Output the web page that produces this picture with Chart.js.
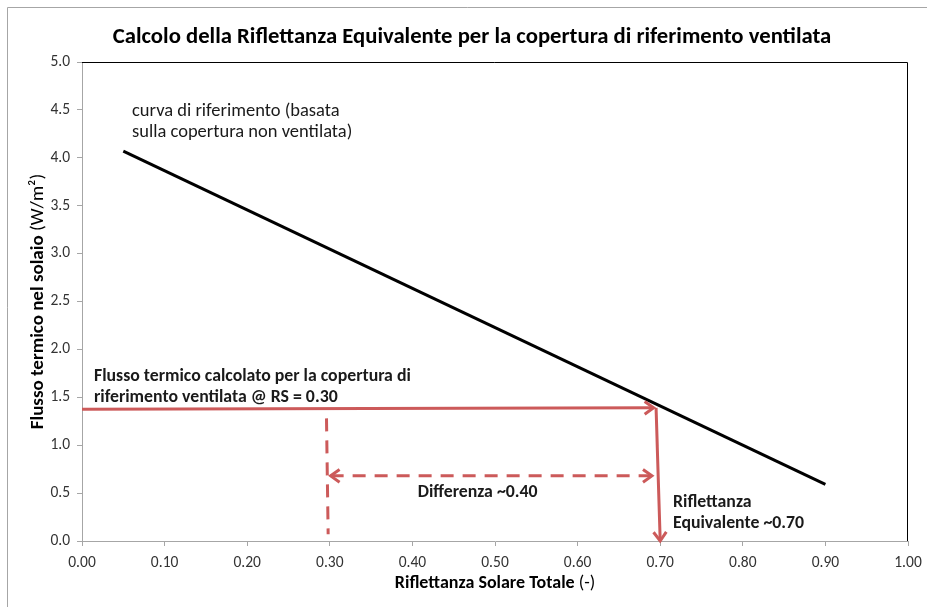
<!DOCTYPE html>
<html>
<head>
<meta charset="utf-8">
<script src="https://cdn.jsdelivr.net/npm/chart.js@4/dist/chart.umd.min.js"></script>
<style>
html,body{margin:0;padding:0;background:#fff;}
#wrap{width:927px;height:607px;position:relative;}
</style>
</head>
<body>
<div id="wrap"><canvas id="c" width="927" height="607"></canvas></div>
<script>
// ---- data ----
const xTicks = [0.0,0.1,0.2,0.3,0.4,0.5,0.6,0.7,0.8,0.9,1.0];
const yTicks = [0.0,0.5,1.0,1.5,2.0,2.5,3.0,3.5,4.0,4.5,5.0];
const refX = [0.05, 0.90];      // curva di riferimento
const refY = [4.07, 0.59];
const flowX = [0.00, 0.692];    // flusso calcolato copertura ventilata
const flowY = [1.375, 1.39];
const eqX = [0.695, 0.70];      // riflettanza equivalente
const eqY = [1.39, 0.00];
const rsX = [0.296, 0.298];     // RS = 0.30
const rsY = [1.28, 0.07];
const diffX = [0.301, 0.690];   // differenza
const diffY = [0.68, 0.68];

const titleText = 'Calcolo della Riflettanza Equivalente per la copertura di riferimento ventilata';
const xTitleBold = 'Riflettanza Solare Totale';
const xTitleNorm = ' (-)';
const yTitleBold = 'Flusso termico nel solaio';
const yTitleNorm = ' (W/m\u00B2)';

const notes = [
  {lines:['curva di riferimento (basata','sulla copertura non ventilata)'], x:0.0605, y:4.48, bold:false, align:'left'},
  {lines:['Flusso termico calcolato per la copertura di','riferimento ventilata @ RS = 0.30'], x:0.0145, y:1.72, bold:true, align:'left'},
  {lines:['Differenza ~0.40'], x:0.479, y:0.51, bold:true, align:'center'},
  {lines:['Riflettanza','Equivalente ~0.70'], x:0.7155, y:0.40, bold:true, align:'left'}
];

const RED = '#CC5A5A';
const FONT = 'Carlito, Calibri, Lato, "Liberation Sans", sans-serif';

const pts = (xs, ys) => xs.map((x,i)=>({x:x, y:ys[i]}));

const overlay = {
  id:'overlay',
  afterDraw(chart){
    const ctx = chart.ctx, xs = chart.scales.x, ys = chart.scales.y, a = chart.chartArea;
    ctx.save();
    // outer frame (top/left)
    ctx.strokeStyle = '#A6A6A6'; ctx.lineWidth = 1;
    ctx.beginPath(); ctx.moveTo(7.5, 607); ctx.lineTo(7.5, 7.5); ctx.lineTo(927, 7.5); ctx.stroke();
    // plot border top/right
    ctx.strokeStyle = '#000'; ctx.lineWidth = 1;
    ctx.beginPath(); ctx.moveTo(a.left, a.top+0.5); ctx.lineTo(a.right-0.5, a.top+0.5); ctx.lineTo(a.right-0.5, a.bottom); ctx.stroke();
    // title
    ctx.fillStyle = '#000';
    ctx.font = 'bold 22.7px ' + FONT;
    ctx.textAlign = 'center'; ctx.textBaseline = 'middle';
    ctx.fillText(titleText, 472, 37);
    // arrowheads
    function head(x1,y1,x2,y2){
      const p1x = xs.getPixelForValue(x1), p1y = ys.getPixelForValue(y1);
      const p2x = xs.getPixelForValue(x2), p2y = ys.getPixelForValue(y2);
      const ang = Math.atan2(p2y-p1y, p2x-p1x);
      const L = 11, W = 0.62;
      ctx.strokeStyle = RED; ctx.lineWidth = 3; ctx.lineCap='butt'; ctx.lineJoin='miter';
      ctx.beginPath();
      ctx.moveTo(p2x - L*Math.cos(ang-W), p2y - L*Math.sin(ang-W));
      ctx.lineTo(p2x, p2y);
      ctx.lineTo(p2x - L*Math.cos(ang+W), p2y - L*Math.sin(ang+W));
      ctx.stroke();
    }
    head(flowX[0],flowY[0],flowX[1],flowY[1]);
    head(eqX[0],eqY[0],eqX[1],eqY[1]);
    head(diffX[0],diffY[0],diffX[1],diffY[1]);
    head(diffX[1],diffY[1],diffX[0],diffY[0]);
    // notes
    ctx.fillStyle = '#1a1a1a';
    notes.forEach(n=>{
      ctx.font = (n.bold?'bold 17.8px ':'18.5px ') + FONT;
      ctx.textAlign = n.align; ctx.textBaseline = 'middle';
      const px = xs.getPixelForValue(n.x), py = ys.getPixelForValue(n.y);
      n.lines.forEach((l,i)=>ctx.fillText(l, px, py + i*21));
    });
    // axis titles
    function mixed(bold, norm, cx, cy, size){
      ctx.font = 'bold ' + size + 'px ' + FONT;
      const wb = ctx.measureText(bold).width;
      ctx.font = size + 'px ' + FONT;
      const wn = ctx.measureText(norm).width;
      const sx = cx - (wb+wn)/2;
      ctx.textAlign='left'; ctx.textBaseline='middle'; ctx.fillStyle='#000';
      ctx.font = 'bold ' + size + 'px ' + FONT; ctx.fillText(bold, sx, cy);
      ctx.font = size + 'px ' + FONT; ctx.fillText(norm, sx+wb, cy);
    }
    mixed(xTitleBold, xTitleNorm, (a.left+a.right)/2, 583, 18);
    ctx.save();
    ctx.translate(38, (a.top+a.bottom)/2);
    ctx.rotate(-Math.PI/2);
    mixed(yTitleBold, yTitleNorm, 0, 0, 19);
    ctx.restore();
    ctx.restore();
  }
};

new Chart(document.getElementById('c'), {
  type:'scatter',
  data:{
    datasets:[
      {data:pts(refX,refY), showLine:true, borderColor:'#000', borderWidth:3, pointRadius:0},
      {data:pts(flowX,flowY), showLine:true, borderColor:RED, borderWidth:3, pointRadius:0},
      {data:pts(eqX,eqY), showLine:true, borderColor:RED, borderWidth:3, pointRadius:0},
      {data:pts(rsX,rsY), showLine:true, borderColor:RED, borderWidth:3, borderDash:[13,9], pointRadius:0},
      {data:pts(diffX,diffY), showLine:true, borderColor:RED, borderWidth:3, borderDash:[13,9], pointRadius:0}
    ]
  },
  options:{
    responsive:false, animation:false,
    layout:{padding:{top:62,right:19,left:0,bottom:0}},
    plugins:{legend:{display:false}, tooltip:{enabled:false}, title:{display:false}},
    scales:{
      x:{type:'linear', min:0, max:1,
        afterBuildTicks: ax => { ax.ticks = xTicks.map(v=>({value:v})); },
        afterFit: ax => { ax.height = 66; ax.paddingRight = 0; ax.paddingLeft = 0; },
        ticks:{callback:v=>Number(v).toFixed(2), font:{family:FONT,size:15.5}, color:'#333', padding:8, maxRotation:0},
        grid:{drawOnChartArea:false, drawTicks:true, tickLength:5, color:'#A6A6A6'},
        border:{color:'#A6A6A6', width:1}
      },
      y:{type:'linear', min:0, max:5,
        afterBuildTicks: ax => { ax.ticks = yTicks.map(v=>({value:v})); },
        afterFit: ax => { ax.width = 82; ax.paddingTop = 0; ax.paddingBottom = 0; },
        ticks:{callback:v=>Number(v).toFixed(1), font:{family:FONT,size:15.5}, color:'#333', padding:7},
        grid:{drawOnChartArea:false, drawTicks:true, tickLength:5, color:'#A6A6A6'},
        border:{color:'#A6A6A6', width:1}
      }
    }
  },
  plugins:[overlay]
});
</script>
</body>
</html>
